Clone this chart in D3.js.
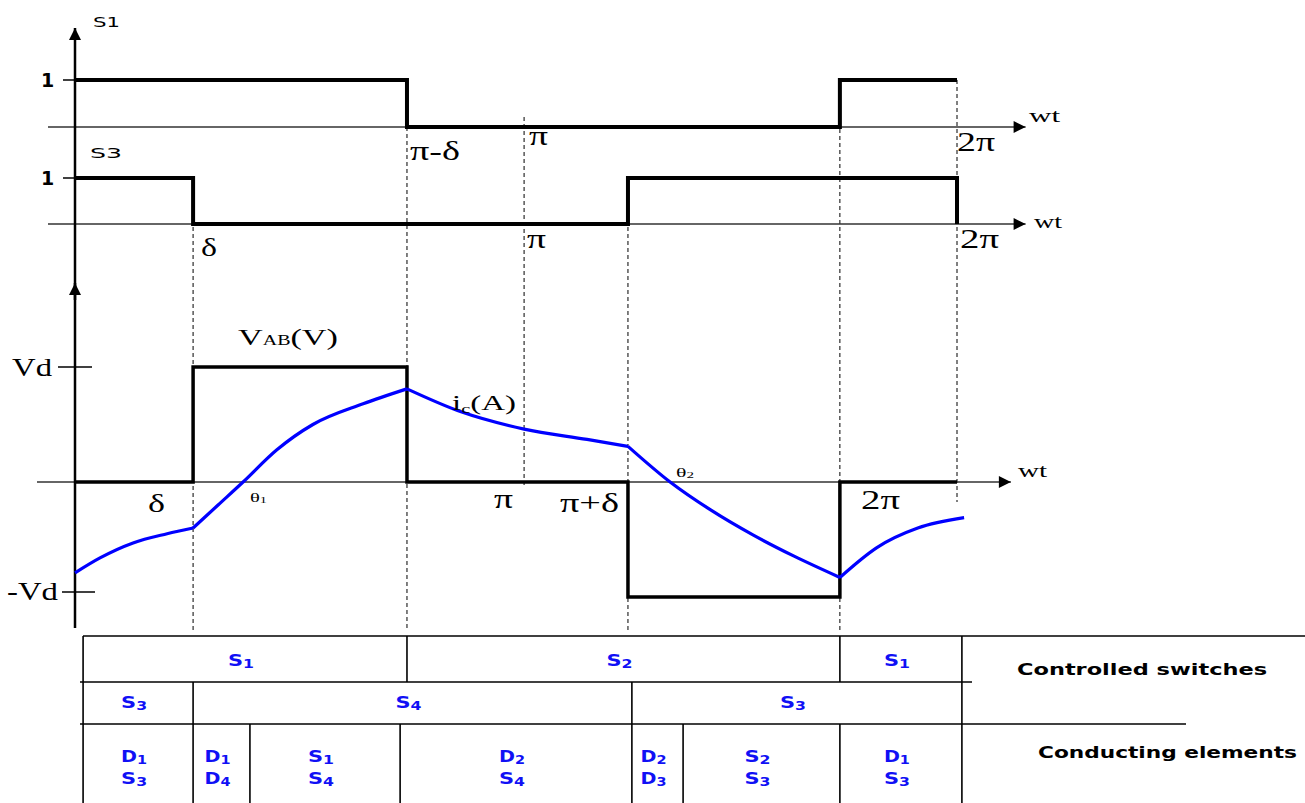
<!DOCTYPE html>
<html>
<head>
<meta charset="utf-8">
<script src="https://cdnjs.cloudflare.com/ajax/libs/d3/7.8.5/d3.min.js"></script>
<style>
body{margin:0;background:#fff}
svg{display:block}
</style>
</head>
<body>
<div id="chart"></div>
<script>
const width = 1305, height = 803;

// wt in degrees, as placed on the drawing
const s1Wt = [0, 135.5, 312.2, 360];
const s1Val = [1, 0, 1, 1];
const s3Wt = [0, 48.2, 225.7, 360, 360];
const s3Val = [1, 0, 1, 1, 0];
const vabWt = [0, 48.2, 135.5, 225.7, 312.2, 360];
const vabVal = [0, 1, 0, -1, 0, 0];

// load current, in units of Vd; a repeated wt marks a switching kink
const icWt = [0, 10.2, 23.7, 37.6, 48.2,
  48.2, 58.4, 68.6, 82.4, 97.1, 117.6, 135.5,
  135.5, 157.6, 183.3, 209, 225.7,
  225.7, 242.9, 259.6, 276.7, 293.5, 312.2,
  312.2, 327.3, 344, 362.9];
const icVal = [-0.79, -0.66, -0.53, -0.45, -0.40,
  -0.40, -0.20, 0, 0.28, 0.50, 0.68, 0.81,
  0.81, 0.61, 0.46, 0.37, 0.31,
  0.31, 0, -0.245, -0.46, -0.645, -0.83,
  -0.83, -0.57, -0.40, -0.31];

// dashed guide lines
const guideWt = [48.2, 135.5, 183.3, 225.7, 312.2, 360];

// table
const row1Edges = [3.3, 135.5, 312.2, 362];
const row1Labels = ['S1', 'S2', 'S1'];
const row2Edges = [3.3, 48.2, 227.3, 362];
const row2Labels = ['S3', 'S4', 'S3'];
const row3Edges = [3.3, 48.2, 71.4, 132.7, 227.3, 248.2, 312.2, 362];
const row3Labels = [['D1','S3'], ['D1','D4'], ['S1','S4'], ['D2','S4'], ['D2','D3'], ['S2','S3'], ['D1','S3']];

const x = d3.scaleLinear().domain([0, 360]).range([75, 957]);
const yS1 = d3.scaleLinear().domain([0, 1]).range([127, 80]);
const yS3 = d3.scaleLinear().domain([0, 1]).range([224, 178]);
const yV = d3.scaleLinear().domain([-1, 1]).range([597, 367]);

const svg = d3.select('#chart').append('svg')
  .attr('width', width).attr('height', height);

const defs = svg.append('defs');
defs.append('marker').attr('id', 'arr')
  .attr('viewBox', '0 0 10 10').attr('refX', 10).attr('refY', 5)
  .attr('markerWidth', 14).attr('markerHeight', 12)
  .attr('markerUnits', 'userSpaceOnUse').attr('orient', 'auto')
  .append('path').attr('d', 'M0,0L10,5L0,10z').attr('fill', '#000');

const serif = '"Liberation Serif", "DejaVu Serif", serif';
const sans = '"DejaVu Sans", sans-serif';

// ---- guides
const guideTop = [yS3(1), yS1(0), 117, yS3(1), yS1(1), yS1(1)];
const guideBot = [630, 630, 487, 630, 630, 502];
svg.append('g').selectAll('line').data(guideWt).join('line')
  .attr('x1', d => x(d)).attr('x2', d => x(d))
  .attr('y1', (d, i) => guideTop[i]).attr('y2', (d, i) => guideBot[i])
  .attr('stroke', '#000').attr('stroke-width', 1).attr('stroke-dasharray', '4,3');

// ---- horizontal axes
const hAxes = [[yS1(0), 388], [yS3(0), 388], [yV(0), 382]];
svg.append('g').selectAll('line').data(hAxes).join('line')
  .attr('x1', (d, i) => i < 2 ? 48 : 37).attr('x2', d => x(d[1]))
  .attr('y1', d => d[0]).attr('y2', d => d[0])
  .attr('stroke', '#333').attr('stroke-width', 1.3)
  .attr('marker-end', 'url(#arr)');

// ---- vertical axis
svg.append('line').attr('x1', x(0)).attr('x2', x(0)).attr('y1', 628).attr('y2', 28)
  .attr('stroke', '#000').attr('stroke-width', 2.5).attr('marker-end', 'url(#arr)');
svg.append('line').attr('x1', x(0)).attr('x2', x(0)).attr('y1', 300).attr('y2', 283)
  .attr('stroke', '#000').attr('stroke-width', 2.5).attr('marker-end', 'url(#arr)');

const yTicks = [[yS1(1), 63, 75], [yS3(1), 63, 75], [yV(1), 58, 92], [592, 62, 95]];
svg.append('g').selectAll('line').data(yTicks).join('line')
  .attr('x1', d => d[1]).attr('x2', d => d[2]).attr('y1', d => d[0]).attr('y2', d => d[0])
  .attr('stroke', '#000').attr('stroke-width', 1.5);

// ---- waveforms
const step = d3.line().curve(d3.curveStepAfter);
svg.append('path')
  .attr('d', step(s1Wt.map((w, i) => [x(w), yS1(s1Val[i])])))
  .attr('fill', 'none').attr('stroke', '#000').attr('stroke-width', 4);
svg.append('path')
  .attr('d', step(s3Wt.map((w, i) => [x(w), yS3(s3Val[i])])))
  .attr('fill', 'none').attr('stroke', '#000').attr('stroke-width', 4);
svg.append('path')
  .attr('d', step(vabWt.map((w, i) => [x(w), yV(vabVal[i])])))
  .attr('fill', 'none').attr('stroke', '#000').attr('stroke-width', 3.5);

// load current, one smooth piece per switching interval
const segs = [];
let cur = [];
icWt.forEach((w, i) => {
  if (i > 0 && w === icWt[i - 1]) { segs.push(cur); cur = []; }
  cur.push([w, icVal[i]]);
});
segs.push(cur);
const icLine = d3.line().x(d => x(d[0])).y(d => yV(d[1])).curve(d3.curveMonotoneX);
svg.append('g').selectAll('path').data(segs).join('path')
  .attr('d', icLine)
  .attr('fill', 'none').attr('stroke', '#0000ff').attr('stroke-width', 3.2)
  .attr('stroke-linejoin', 'round');

// ---- labels
// parts: [text, size, dy]
const label = (tx, ty, parts, fam, len, weight) => {
  const t = svg.append('text').attr('x', tx).attr('y', ty)
    .attr('font-family', fam).attr('font-weight', weight || 'normal');
  parts.forEach(p => t.append('tspan').attr('font-size', p[1]).attr('dy', p[2] || 0).text(p[0]));
  if (len) t.attr('textLength', len).attr('lengthAdjust', 'spacingAndGlyphs');
  return t;
};

label(93, 27, [['S1', 14]], sans, 27);
label(90, 158, [['S3', 14]], sans, 32);
label(41, 87, [['1', 19]], sans, null, 'bold');
label(41, 185, [['1', 19]], sans, null, 'bold');

label(410, 160, [['π-δ', 27]], serif, 50);
label(529, 145, [['π', 27]], serif, 19);
label(957, 151, [['2π', 27]], serif, 38);
label(201, 256, [['δ', 26]], serif, 16);
label(527, 248, [['π', 27]], serif, 19);
label(960, 248, [['2π', 27]], serif, 39);

label(1029, 122, [['wt', 18]], serif, 31);
label(1034, 228, [['wt', 18]], serif, 28);
label(1018, 477, [['wt', 18]], serif, 29);

label(12, 376, [['Vd', 26]], serif, 40);
label(7, 600, [['-Vd', 26]], serif, 51);

label(148, 512, [['δ', 26]], serif, 17);
label(494, 508, [['π', 27]], serif, 19);
label(560, 512, [['π+δ', 27]], serif, 59);
label(861, 509, [['2π', 27]], serif, 39);

label(250, 502, [['θ', 13], ['1', 9, 1]], serif, 17);
label(676, 477, [['θ', 13], ['2', 9, 1]], serif, 18);

label(238, 345, [['V', 24], ['AB', 14], ['(V)', 24]], serif, 100);
label(452, 410, [['i', 21], ['c', 13, 3], ['(A)', 21, -3]], serif, 64);

// ---- table
const rowY = [636, 682, 724, 803];
const tg = svg.append('g').attr('stroke', '#000').attr('stroke-width', 1.6);
tg.append('line').attr('x1', 83).attr('x2', 1305).attr('y1', rowY[0]).attr('y2', rowY[0]);
tg.append('line').attr('x1', 80).attr('x2', 972).attr('y1', rowY[1]).attr('y2', rowY[1]);
tg.append('line').attr('x1', 80).attr('x2', 1186).attr('y1', rowY[2]).attr('y2', rowY[2]);

const vlines = [];
[row1Edges, row2Edges, row3Edges].forEach((edges, r) => {
  edges.slice(1, -1).forEach(e => vlines.push([x(e), rowY[r], rowY[r + 1]]));
});
vlines.push([x(row1Edges[0]), rowY[0], rowY[3]]);
vlines.push([x(row1Edges[row1Edges.length - 1]), rowY[0], rowY[3]]);
tg.selectAll('line.v').data(vlines).join('line').attr('class', 'v')
  .attr('x1', d => d[0]).attr('x2', d => d[0]).attr('y1', d => d[1]).attr('y2', d => d[2]);

const blue = '#1010f5';
const subLabel = (cx, cy, s) => {
  label(cx - 13, cy, [[s[0], 16], [s.slice(1), 12, 2]], sans, 26, 'bold').attr('fill', blue);
};
const mid = (edges, i) => (x(edges[i]) + x(edges[i + 1])) / 2;
row1Labels.forEach((s, i) => subLabel(mid(row1Edges, i) - 4, 666, s));
row2Labels.forEach((s, i) => subLabel(mid(row2Edges, i) - 4, 708, s));
row3Labels.forEach((pair, i) => {
  subLabel(mid(row3Edges, i) - 4, 762, pair[0]);
  subLabel(mid(row3Edges, i) - 4, 784, pair[1]);
});

label(1017, 675, [['Controlled switches', 16]], sans, 250, 'bold');
label(1038, 758, [['Conducting elements', 16]], sans, 259, 'bold');
</script>
</body>
</html>
